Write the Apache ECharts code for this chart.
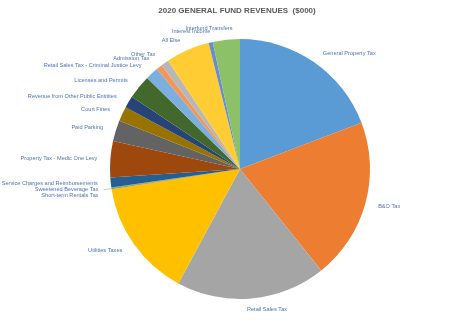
<!DOCTYPE html>
<html><head><meta charset="utf-8">
<script src="https://cdn.jsdelivr.net/npm/echarts@6/dist/echarts.min.js"></script>
<style>html,body{margin:0;padding:0;background:#fff}#c{width:474px;height:320px}</style>
</head><body><div id="c"></div>
<script>
var categories = [
  "General Property Tax","B&O Tax","Retail Sales Tax","Utilities Taxes",
  "Short-term Rentals Tax","Sweetened Beverage Tax","Service Charges and Reimbursements",
  "Property Tax - Medic One Levy","Paid Parking","Court Fines",
  "Revenue from Other Public Entitites","Licenses and Permits",
  "Retail Sales Tax - Criminal Justice Levy","Admission Tax","Other Tax",
  "All Else","Interest Income","Interfund Transfers"
];
var values = [290640,302820,281400,222180,1260,1260,18480,68040,39480,27720,22260,44940,24360,11340,14700,82320,7980,50820];
var colors = ["#5B9BD5","#ED7D31","#A5A5A5","#FFC000","#4472C4","#70AD47","#255E91","#9E480E","#636363","#997300","#264478","#43682B","#7CAFDD","#F1975A","#B7B7B7","#FFCD33","#698ED0","#8CC168"];
var titleText = "2020 GENERAL FUND REVENUES  ($000)";

var CX = 240, CY = 169, R = 130;
var crowded = {4:true,5:true,6:true};

var chart = echarts.init(document.getElementById('c'), null, {renderer:'canvas'});
chart.setOption({
  animation:false,
  title:{text:titleText,left:'center',top:2,textStyle:{fontFamily:'Liberation Sans',fontSize:8,fontWeight:'bold',color:'#595959'}},
  series:[{
    type:'pie',
    center:[CX,CY],
    radius:R,
    startAngle:90,
    clockwise:true,
    avoidLabelOverlap:false,
    data:categories.map(function(n,i){
      var d = {name:n,value:values[i],itemStyle:{color:colors[i]}};
      if (i === 4) d.labelLine = {show:true};
      if (crowded[i]) d.label = {padding:[0.6,0,0.6,0]};
      return d;
    }),
    itemStyle:{borderWidth:0},
    label:{show:true,position:'outside',formatter:'{b}',fontFamily:'Liberation Sans',fontSize:5.6,color:'#4E74B5',overflow:'none',bleedMargin:1},
    labelLine:{show:false,length:8,length2:0,lineStyle:{color:'#A6A6A6',width:0.6}},
    labelLayout:function(p){
      var r = p.labelRect;
      var ly = r.y + r.height/2;
      var left = (r.x + r.width/2) < CX;
      var ax = left ? r.x + r.width : r.x;
      var dx = ax - CX, dy = ly - CY;
      var d = Math.sqrt(dx*dx + dy*dy) || 1;
      var c = -dy/d, s = dx/d;
      var k = Math.pow(Math.abs(c),16)*0.6;
      var out = {dy: -c*r.height/2, dx: -(s<0?-1:1)*r.width/2*k};
      if (crowded[p.dataIndex]) { out.moveOverlap = 'shiftY'; out.dy = 0; out.dx = 0; }
      return out;
    }
  }]
});
</script></body></html>
